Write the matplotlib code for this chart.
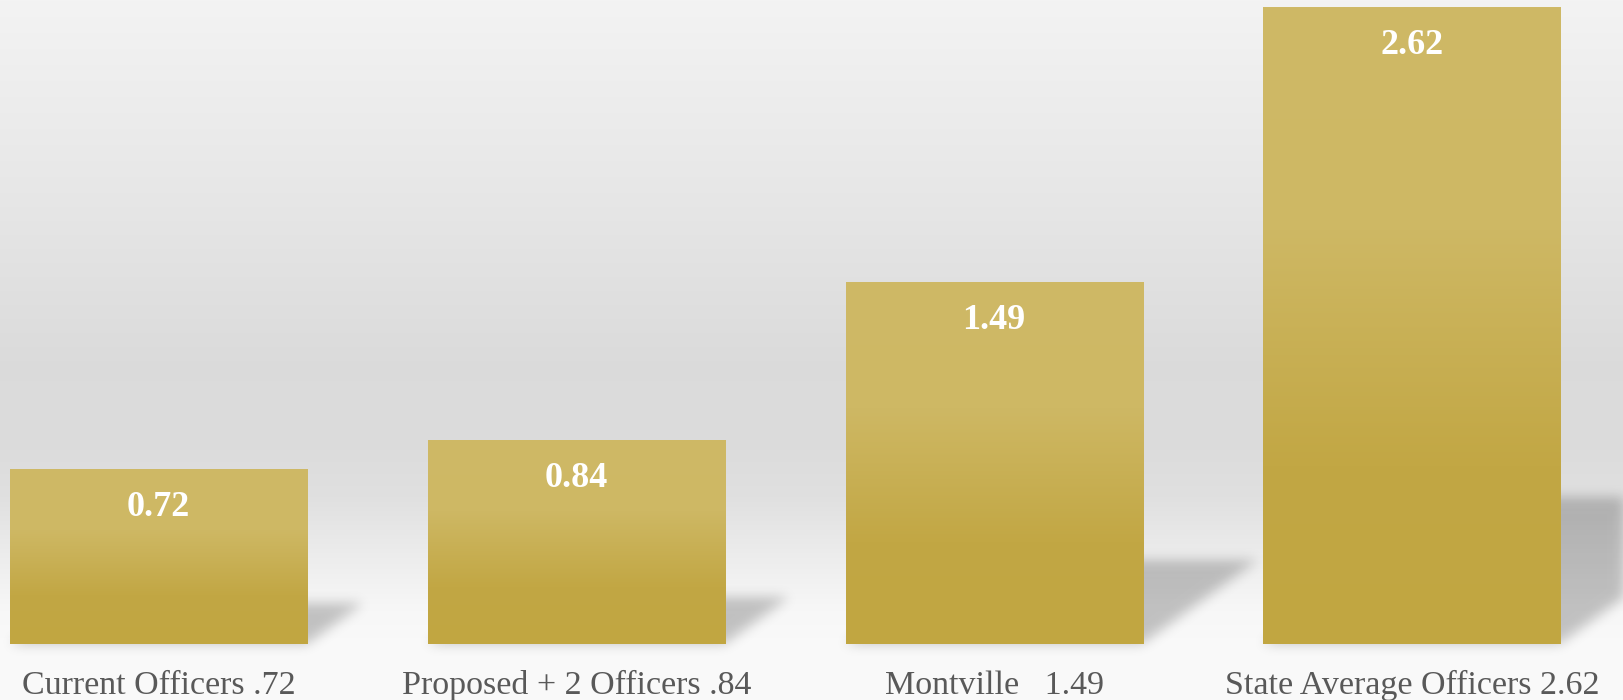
import numpy as np
import matplotlib
matplotlib.use('Agg')
import matplotlib.pyplot as plt
from matplotlib.path import Path
from matplotlib.colors import LinearSegmentedColormap

# Officers per 1,000 residents
labels = ['Current Officers .72', 'Proposed + 2 Officers .84',
          'Montville   1.49', 'State Average Officers 2.62']
values = [0.72, 0.84, 1.49, 2.62]

W, H = 1624, 700
fig = plt.figure(figsize=(W / 100, H / 100), dpi=100)
ax = fig.add_axes([0, 0, 1, 1])
xlim = (-0.3795, 3.508)
ylim = (-0.2305, 2.650)
full = [xlim[0], xlim[1], ylim[0], ylim[1]]

# background: light grey at the top, darker in the middle, near white at the floor
rows = np.linspace(0, 1, H)
sp = np.array([(0.0, 0.953), (0.28, 0.905), (0.52, 0.858), (0.64, 0.862),
               (0.71, 0.878), (0.79, 0.925), (0.87, 0.968), (0.93, 0.98), (1.0, 0.98)])
g = np.interp(rows, sp[:, 0], sp[:, 1]).reshape(-1, 1)
bg = np.dstack([g, g, g])
ax.imshow(bg, extent=full, aspect='auto', zorder=0,
          interpolation='bilinear', origin='upper')

x = np.arange(len(values))
width = 0.711

# soft cast shadows, sheared to the right of each bar
xx = np.linspace(xlim[0], xlim[1], W)
yy = np.linspace(ylim[1], ylim[0], H)
gx, gy = np.meshgrid(xx, yy)
pts = np.column_stack([gx.ravel(), gy.ravel()])
mask = np.zeros(W * H)
for xi, v in zip(x, values):
    x0, x1 = xi - width / 2, xi + width / 2
    hh = 0.23 * v
    dx = 0.1846 * v
    poly = Path([(x0, 0), (x1, 0), (x1 + dx, hh), (x0 + dx, hh), (x0, 0)])
    mask = np.maximum(mask, poly.contains_points(pts).astype(float))
mask = mask.reshape(H, W)

k = np.arange(-18, 19)
kern = np.exp(-k ** 2 / (2 * 6.0 ** 2))
kern /= kern.sum()
mask = np.apply_along_axis(lambda r: np.convolve(r, kern, mode='same'), 1, mask)
mask = np.apply_along_axis(lambda c: np.convolve(c, kern, mode='same'), 0, mask)
shadow = np.zeros((H, W, 4))
shadow[..., 3] = mask * 0.22
ax.imshow(shadow, extent=full, aspect='auto', zorder=1, origin='upper')

# gold bars with a vertical gradient
gold = LinearSegmentedColormap.from_list(
    'gold', [(0.0, '#cfb966'), (0.35, '#ceb864'), (0.72, '#c2a744'), (1.0, '#c1a641')])
bars = ax.bar(x, values, width=width, color='none', edgecolor='none', zorder=2)
grad = np.linspace(0, 1, 256).reshape(-1, 1)
for bar in bars:
    bx, by = bar.get_x(), bar.get_y()
    im = ax.imshow(grad, cmap=gold, aspect='auto', zorder=3, origin='upper',
                   extent=[bx, bx + bar.get_width(), by, by + bar.get_height()])
    im.set_clip_path(bar)

for xi, v, lab in zip(x, values, labels):
    ax.annotate(f'{v:.2f}', (xi, v), xytext=(0, -27.5), textcoords='offset points',
                ha='center', va='center', color='white', fontweight='bold',
                fontsize=26, family='Liberation Serif', zorder=4)
    ax.annotate(lab, (xi, 0), xytext=(0, -30), textcoords='offset points',
                ha='center', va='center', color='#595959',
                fontsize=24.5, family='Liberation Serif', zorder=4)

ax.set_xlim(*xlim)
ax.set_ylim(*ylim)
ax.axis('off')

fig.savefig('out.png', dpi=100)
